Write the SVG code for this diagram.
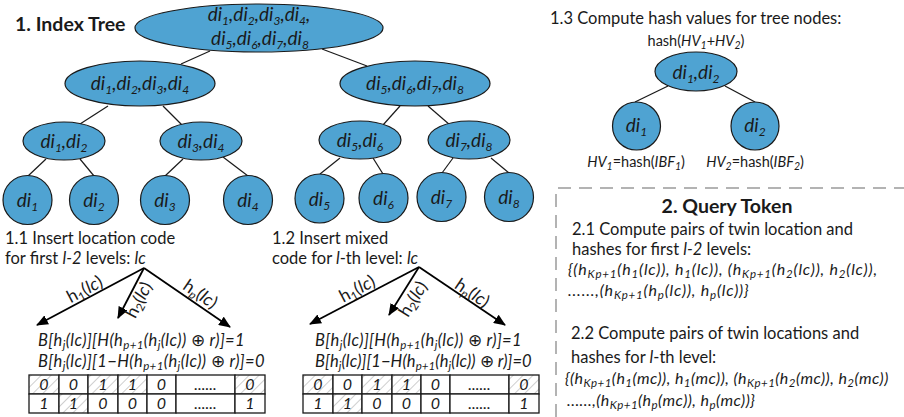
<svg xmlns="http://www.w3.org/2000/svg" width="904" height="417" viewBox="0 0 904 417">
<defs>
<style>
.nd{fill:#4fa3d2;stroke:#1a1a1a;stroke-width:1.2}
.ln{stroke:#1a1a1a;stroke-width:1.2;fill:none}
.nt{font-family:Lato,'Open Sans','Liberation Sans',sans-serif;font-style:italic;font-size:19px;fill:#1a1a1a;text-anchor:middle}
.s{font-size:12px}
.t{font-family:Lato,'Open Sans','Liberation Sans',sans-serif;font-size:16.5px;fill:#1a1a1a}
.tt{font-family:Lato,'Open Sans','Liberation Sans',sans-serif;font-size:19.5px;font-weight:bold;fill:#1a1a1a}
.i{font-style:italic}
.n{font-style:normal}
.f{font-family:Lato,'Open Sans','Liberation Sans',sans-serif;font-style:italic;font-size:16.5px;letter-spacing:0.4px;fill:#1a1a1a}
.q{font-family:Lato,'Open Sans','Liberation Sans',sans-serif;font-style:italic;font-size:16px;letter-spacing:0.8px;fill:#1a1a1a}
.q2{letter-spacing:0.45px}
.s2{font-size:10.5px}
.s3{font-size:11.5px}
.h{font-family:Lato,'Open Sans','Liberation Sans',sans-serif;font-size:14.5px;fill:#1a1a1a}
.ar{stroke:#000;stroke-width:1.8;fill:none;marker-end:url(#ah)}
.al{font-family:Lato,'Open Sans','Liberation Sans',sans-serif;font-size:17.5px;fill:#1a1a1a;text-anchor:middle}
.cell{fill:#fff;stroke:#1a1a1a;stroke-width:1.3}
.hc{fill:url(#hatch);stroke:#1a1a1a;stroke-width:1.3}
.ct{font-family:Lato,'Open Sans','Liberation Sans',sans-serif;font-style:italic;font-size:16px;fill:#1a1a1a;text-anchor:middle}
.dash{stroke:#9a9a9a;stroke-width:1.5;fill:none;stroke-dasharray:13 8}
</style>
<marker id="ah" viewBox="0 0 12 10" refX="11" refY="5" markerWidth="12" markerHeight="10" markerUnits="userSpaceOnUse" orient="auto">
<path d="M0,0 L12,5 L0,10 z" fill="#000"/>
</marker>
<pattern id="hatch" width="7" height="7" patternUnits="userSpaceOnUse" patternTransform="rotate(45)">
<rect width="7" height="7" fill="#fff"/>
<line x1="0" y1="0" x2="0" y2="7" stroke="#b3b3b3" stroke-width="1.3"/>
</pattern>
</defs>

<text class="tt" x="15" y="31">1. Index Tree</text>

<g id="connectors">
<line class="ln" x1="210" y1="51" x2="181" y2="64"/>
<line class="ln" x1="322" y1="49" x2="367" y2="66"/>
<line class="ln" x1="108" y1="106" x2="80" y2="124"/>
<line class="ln" x1="163" y1="106" x2="182" y2="125"/>
<line class="ln" x1="400" y1="106" x2="383" y2="125"/>
<line class="ln" x1="428" y1="106" x2="450" y2="125"/>
<line class="ln" x1="46" y1="159" x2="28" y2="176"/>
<line class="ln" x1="80" y1="159" x2="94" y2="176"/>
<line class="ln" x1="183" y1="159" x2="165" y2="176"/>
<line class="ln" x1="223" y1="157" x2="248" y2="176"/>
<line class="ln" x1="340" y1="158" x2="320" y2="174"/>
<line class="ln" x1="373" y1="158" x2="383" y2="174"/>
<line class="ln" x1="453" y1="158" x2="442" y2="173"/>
<line class="ln" x1="491" y1="158" x2="509" y2="173"/>
<line class="ln" x1="668" y1="86" x2="635" y2="102"/>
<line class="ln" x1="725" y1="86" x2="755" y2="102"/>
</g>

<g id="root">
<ellipse class="nd" cx="259" cy="28" rx="124" ry="24"/>
<text class="nt" x="259" y="21">di<tspan class="s" dy="4">1</tspan><tspan dy="-4">,di</tspan><tspan class="s" dy="4">2</tspan><tspan dy="-4">,di</tspan><tspan class="s" dy="4">3</tspan><tspan dy="-4">,di</tspan><tspan class="s" dy="4">4</tspan><tspan dy="-4">,</tspan></text>
<text class="nt" x="260" y="45">di<tspan class="s" dy="4">5</tspan><tspan dy="-4">,di</tspan><tspan class="s" dy="4">6</tspan><tspan dy="-4">,di</tspan><tspan class="s" dy="4">7</tspan><tspan dy="-4">,di</tspan><tspan class="s" dy="4">8</tspan></text>
</g>

<g id="n1234">
<ellipse class="nd" cx="140" cy="83.5" rx="75" ry="22.5"/>
<text class="nt" x="140" y="90">di<tspan class="s" dy="4">1</tspan><tspan dy="-4">,di</tspan><tspan class="s" dy="4">2</tspan><tspan dy="-4">,di</tspan><tspan class="s" dy="4">3</tspan><tspan dy="-4">,di</tspan><tspan class="s" dy="4">4</tspan></text>
</g>
<g id="n5678">
<ellipse class="nd" cx="415" cy="83.5" rx="75" ry="22.5"/>
<text class="nt" x="415" y="90">di<tspan class="s" dy="4">5</tspan><tspan dy="-4">,di</tspan><tspan class="s" dy="4">6</tspan><tspan dy="-4">,di</tspan><tspan class="s" dy="4">7</tspan><tspan dy="-4">,di</tspan><tspan class="s" dy="4">8</tspan></text>
</g>

<g id="n12">
<ellipse class="nd" cx="64" cy="141" rx="41" ry="19"/>
<text class="nt" x="64" y="148">di<tspan class="s" dy="4">1</tspan><tspan dy="-4">,di</tspan><tspan class="s" dy="4">2</tspan></text>
</g>
<g id="n34">
<ellipse class="nd" cx="201" cy="141" rx="41" ry="19"/>
<text class="nt" x="201" y="148">di<tspan class="s" dy="4">3</tspan><tspan dy="-4">,di</tspan><tspan class="s" dy="4">4</tspan></text>
</g>
<g id="n56">
<ellipse class="nd" cx="360" cy="140" rx="41" ry="19"/>
<text class="nt" x="360" y="147">di<tspan class="s" dy="4">5</tspan><tspan dy="-4">,di</tspan><tspan class="s" dy="4">6</tspan></text>
</g>
<g id="n78">
<ellipse class="nd" cx="469" cy="140" rx="41" ry="19"/>
<text class="nt" x="469" y="147">di<tspan class="s" dy="4">7</tspan><tspan dy="-4">,di</tspan><tspan class="s" dy="4">8</tspan></text>
</g>

<g id="d1"><circle class="nd" cx="27.5" cy="200" r="24.5"/><text class="nt" x="27.5" y="207">di<tspan class="s" dy="4">1</tspan></text></g>
<g id="d2"><circle class="nd" cx="94" cy="200" r="24.5"/><text class="nt" x="94" y="207">di<tspan class="s" dy="4">2</tspan></text></g>
<g id="d3"><circle class="nd" cx="165" cy="200" r="24.5"/><text class="nt" x="165" y="207">di<tspan class="s" dy="4">3</tspan></text></g>
<g id="d4"><circle class="nd" cx="248" cy="200" r="24.5"/><text class="nt" x="248" y="207">di<tspan class="s" dy="4">4</tspan></text></g>
<g id="d5"><circle class="nd" cx="319.5" cy="198.5" r="24.5"/><text class="nt" x="319.5" y="205.5">di<tspan class="s" dy="4">5</tspan></text></g>
<g id="d6"><circle class="nd" cx="383.5" cy="198" r="24.5"/><text class="nt" x="383.5" y="205">di<tspan class="s" dy="4">6</tspan></text></g>
<g id="d7"><circle class="nd" cx="441.5" cy="197" r="24.5"/><text class="nt" x="441.5" y="204">di<tspan class="s" dy="4">7</tspan></text></g>
<g id="d8"><circle class="nd" cx="509" cy="197" r="24.5"/><text class="nt" x="509" y="204">di<tspan class="s" dy="4">8</tspan></text></g>

<!-- 1.3 hash tree -->
<text class="t" x="550" y="24">1.3 Compute hash values for tree nodes:</text>
<text class="h" x="696" y="46" text-anchor="middle">hash(<tspan class="i">HV</tspan><tspan class="i s2" dy="3">1</tspan><tspan dy="-3">+</tspan><tspan class="i">HV</tspan><tspan class="i s2" dy="3">2</tspan><tspan dy="-3">)</tspan></text>
<g id="h12">
<ellipse class="nd" cx="696" cy="71.5" rx="41" ry="19.5"/>
<text class="nt" x="696" y="79">di<tspan class="s" dy="4">1</tspan><tspan dy="-4">,di</tspan><tspan class="s" dy="4">2</tspan></text>
</g>
<g id="h1"><circle class="nd" cx="636.5" cy="126" r="24"/><text class="nt" x="636.5" y="132">di<tspan class="s" dy="4">1</tspan></text></g>
<g id="h2"><circle class="nd" cx="755" cy="126" r="24"/><text class="nt" x="755" y="132">di<tspan class="s" dy="4">2</tspan></text></g>
<text class="h" x="636" y="167" text-anchor="middle"><tspan class="i">HV</tspan><tspan class="i s2" dy="3">1</tspan><tspan dy="-3">=hash(</tspan><tspan class="i">IBF</tspan><tspan class="i s2" dy="3">1</tspan><tspan dy="-3">)</tspan></text>
<text class="h" x="755" y="167" text-anchor="middle"><tspan class="i">HV</tspan><tspan class="i s2" dy="3">2</tspan><tspan dy="-3">=hash(</tspan><tspan class="i">IBF</tspan><tspan class="i s2" dy="3">2</tspan><tspan dy="-3">)</tspan></text>

<!-- 1.1 -->
<text class="t" x="5" y="244">1.1 Insert location code</text>
<text class="t" x="5" y="264">for first <tspan class="i">l-2</tspan> levels:  <tspan class="i">lc</tspan></text>
<g id="arrows1">
<line class="ar" x1="144" y1="268" x2="37" y2="325"/>
<line class="ar" x1="144" y1="268" x2="118" y2="318"/>
<line class="ar" x1="144" y1="268" x2="230" y2="327"/>
</g>
<text class="al" x="87.5" y="294.5" transform="rotate(-28 87.5 294.5)">h<tspan class="s3" dy="3">1</tspan><tspan dy="-3">(</tspan><tspan class="i">lc</tspan>)</text>
<text class="al" x="144" y="302.5" transform="rotate(-62.5 144 302.5)">h<tspan class="s3" dy="3">2</tspan><tspan dy="-3">(</tspan><tspan class="i">lc</tspan>)</text>
<text class="al" x="197" y="299" transform="rotate(34.5 197 299)">h<tspan class="s3 i" dy="3">p</tspan><tspan dy="-3">(</tspan><tspan class="i">lc</tspan>)</text>
<text class="f" x="38" y="346">B[h<tspan class="s3" dy="3">j</tspan><tspan dy="-3">(lc)][H(h</tspan><tspan class="s3" dy="3">p+1</tspan><tspan dy="-3">(h</tspan><tspan class="s3" dy="3">j</tspan><tspan dy="-3">(lc)) </tspan><tspan class="n">⊕</tspan> r)]=1</text>
<text class="f" x="38" y="367">B[h<tspan class="s3" dy="3">j</tspan><tspan dy="-3">(lc)][1−H(h</tspan><tspan class="s3" dy="3">p+1</tspan><tspan dy="-3">(h</tspan><tspan class="s3" dy="3">j</tspan><tspan dy="-3">(lc)) </tspan><tspan class="n">⊕</tspan> r)]=0</text>
<g id="table1">
<rect class="hc" x="29" y="375" width="30" height="19"/>
<rect class="cell" x="59" y="375" width="29" height="19"/>
<rect class="hc" x="88" y="375" width="30" height="19"/>
<rect class="hc" x="118" y="375" width="29" height="19"/>
<rect class="cell" x="147" y="375" width="29" height="19"/>
<rect class="cell" x="176" y="375" width="59" height="19"/>
<rect class="hc" x="235" y="375" width="30" height="19"/>
<rect class="cell" x="29" y="394" width="30" height="19"/>
<rect class="hc" x="59" y="394" width="29" height="19"/>
<rect class="cell" x="88" y="394" width="30" height="19"/>
<rect class="cell" x="118" y="394" width="29" height="19"/>
<rect class="cell" x="147" y="394" width="29" height="19"/>
<rect class="cell" x="176" y="394" width="59" height="19"/>
<rect class="cell" x="235" y="394" width="30" height="19"/>
<text class="ct" x="44" y="390">0</text><text class="ct" x="73.5" y="390">0</text><text class="ct" x="103" y="390">1</text><text class="ct" x="132.5" y="390">1</text><text class="ct" x="161.5" y="390">0</text><text class="ct" x="205.5" y="390">......</text><text class="ct" x="250" y="390">0</text>
<text class="ct" x="44" y="409">1</text><text class="ct" x="73.5" y="409">1</text><text class="ct" x="103" y="409">0</text><text class="ct" x="132.5" y="409">0</text><text class="ct" x="161.5" y="409">0</text><text class="ct" x="205.5" y="409">......</text><text class="ct" x="250" y="409">1</text>
</g>

<!-- 1.2 -->
<text class="t" x="272" y="244">1.2 Insert mixed</text>
<text class="t" x="272" y="264">code for <tspan class="i">l</tspan>-th level:  <tspan class="i">lc</tspan></text>
<g id="arrows2">
<line class="ar" x1="419" y1="267" x2="310" y2="324"/>
<line class="ar" x1="419" y1="267" x2="389" y2="315"/>
<line class="ar" x1="419" y1="267" x2="505" y2="325"/>
</g>
<text class="al" x="360" y="294" transform="rotate(-28 360 294)">h<tspan class="s3" dy="3">1</tspan><tspan dy="-3">(</tspan><tspan class="i">lc</tspan>)</text>
<text class="al" x="418" y="302" transform="rotate(-58 418 302)">h<tspan class="s3" dy="3">2</tspan><tspan dy="-3">(</tspan><tspan class="i">lc</tspan>)</text>
<text class="al" x="469" y="298" transform="rotate(34 469 298)">h<tspan class="s3 i" dy="3">p</tspan><tspan dy="-3">(</tspan><tspan class="i">lc</tspan>)</text>
<text class="f" x="315" y="346">B[h<tspan class="s3" dy="3">j</tspan><tspan dy="-3">(lc)][H(h</tspan><tspan class="s3" dy="3">p+1</tspan><tspan dy="-3">(h</tspan><tspan class="s3" dy="3">j</tspan><tspan dy="-3">(lc)) </tspan><tspan class="n">⊕</tspan> r)]=1</text>
<text class="f" x="315" y="367" style="letter-spacing:0.1px">B[h<tspan class="s3" dy="3">j</tspan><tspan dy="-3">(lc)][1−H(h</tspan><tspan class="s3" dy="3">p+1</tspan><tspan dy="-3">(h</tspan><tspan class="s3" dy="3">j</tspan><tspan dy="-3">(lc)) </tspan><tspan class="n">⊕</tspan> r)]=0</text>
<g id="table2" transform="translate(274,0)">
<rect class="hc" x="29" y="375" width="30" height="19"/>
<rect class="cell" x="59" y="375" width="29" height="19"/>
<rect class="hc" x="88" y="375" width="30" height="19"/>
<rect class="hc" x="118" y="375" width="29" height="19"/>
<rect class="cell" x="147" y="375" width="29" height="19"/>
<rect class="cell" x="176" y="375" width="59" height="19"/>
<rect class="hc" x="235" y="375" width="30" height="19"/>
<rect class="cell" x="29" y="394" width="30" height="19"/>
<rect class="hc" x="59" y="394" width="29" height="19"/>
<rect class="cell" x="88" y="394" width="30" height="19"/>
<rect class="cell" x="118" y="394" width="29" height="19"/>
<rect class="cell" x="147" y="394" width="29" height="19"/>
<rect class="cell" x="176" y="394" width="59" height="19"/>
<rect class="cell" x="235" y="394" width="30" height="19"/>
<text class="ct" x="44" y="390">0</text><text class="ct" x="73.5" y="390">0</text><text class="ct" x="103" y="390">1</text><text class="ct" x="132.5" y="390">1</text><text class="ct" x="161.5" y="390">0</text><text class="ct" x="205.5" y="390">......</text><text class="ct" x="250" y="390">0</text>
<text class="ct" x="44" y="409">1</text><text class="ct" x="73.5" y="409">1</text><text class="ct" x="103" y="409">0</text><text class="ct" x="132.5" y="409">0</text><text class="ct" x="161.5" y="409">0</text><text class="ct" x="205.5" y="409">......</text><text class="ct" x="250" y="409">1</text>
</g>

<!-- 2. Query token -->
<path class="dash" d="M556,417 V188 H904"/>
<text class="tt" x="727" y="213" text-anchor="middle">2. Query Token</text>
<text class="t" x="572" y="235">2.1 Compute pairs of twin location and</text>
<text class="t" x="572" y="255">hashes for first <tspan class="i">l-2</tspan> levels:</text>
<text class="q" x="568" y="275">{(h<tspan class="s3" dy="3">Kp+1</tspan><tspan dy="-3">(h</tspan><tspan class="s3" dy="3">1</tspan><tspan dy="-3">(lc)), h</tspan><tspan class="s3" dy="3">1</tspan><tspan dy="-3">(lc)), (h</tspan><tspan class="s3" dy="3">Kp+1</tspan><tspan dy="-3">(h</tspan><tspan class="s3" dy="3">2</tspan><tspan dy="-3">(lc)), h</tspan><tspan class="s3" dy="3">2</tspan><tspan dy="-3">(lc)),</tspan></text>
<text class="q" x="568" y="296">......,(h<tspan class="s3" dy="3">Kp+1</tspan><tspan dy="-3">(h</tspan><tspan class="s3" dy="3">p</tspan><tspan dy="-3">(lc)), h</tspan><tspan class="s3" dy="3">p</tspan><tspan dy="-3">(lc))}</tspan></text>
<text class="t" x="571" y="339">2.2 Compute pairs of twin locations and</text>
<text class="t" x="571" y="363">hashes for <tspan class="i">l</tspan>-th level:</text>
<text class="q q2" x="565" y="384">{(h<tspan class="s3" dy="2.5">Kp+1</tspan><tspan dy="-2.5">(h</tspan><tspan class="s3" dy="2.5">1</tspan><tspan dy="-2.5">(mc)), h</tspan><tspan class="s3" dy="2.5">1</tspan><tspan dy="-2.5">(mc)), (h</tspan><tspan class="s3" dy="2.5">Kp+1</tspan><tspan dy="-2.5">(h</tspan><tspan class="s3" dy="2.5">2</tspan><tspan dy="-2.5">(mc)), h</tspan><tspan class="s3" dy="2.5">2</tspan><tspan dy="-2.5">(mc))</tspan></text>
<text class="q q2" x="567" y="406">......,(h<tspan class="s3" dy="2.5">Kp+1</tspan><tspan dy="-2.5">(h</tspan><tspan class="s3" dy="2.5">p</tspan><tspan dy="-2.5">(mc)), h</tspan><tspan class="s3" dy="2.5">p</tspan><tspan dy="-2.5">(mc))}</tspan></text>
</svg>
